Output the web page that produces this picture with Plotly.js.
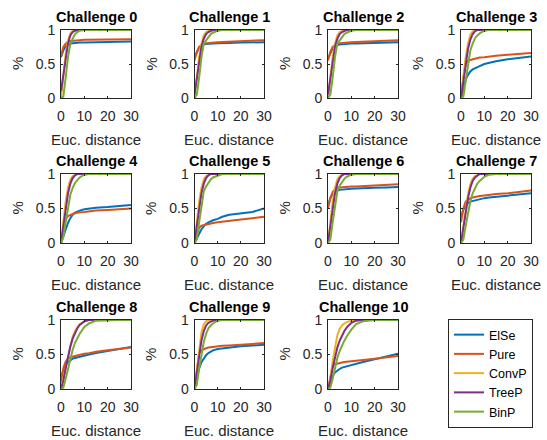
<!DOCTYPE html>
<html>
<head>
<meta charset="utf-8">
<script src="https://cdn.plot.ly/plotly-3.0.1.min.js"></script>
<style>html,body{margin:0;padding:0;background:#fff;}#chart{width:547px;height:440px;}</style>
</head>
<body>
<div id="chart"></div>
<script>
// Euclidean distance sample points (x axis)
const dist = [0, 1, 2, 3, 4, 5, 6, 7, 8, 10, 12, 15, 20, 25, 30];

const challenges = ['Challenge 0','Challenge 1','Challenge 2','Challenge 3','Challenge 4','Challenge 5',
                    'Challenge 6','Challenge 7','Challenge 8','Challenge 9','Challenge 10'];
const seriesNames = ['ElSe','Pure','ConvP','TreeP','BinP'];
const xLabel = 'Euc. distance';
const yLabel = '%';

// one row per challenge, values at each distance in `dist`
const ElSe = [
  [0.60,0.70,0.76,0.79,0.80,0.805,0.81,0.81,0.815,0.815,0.82,0.82,0.825,0.83,0.83],
  [0.60,0.68,0.74,0.77,0.79,0.795,0.80,0.80,0.80,0.805,0.81,0.81,0.815,0.82,0.82],
  [0.58,0.67,0.73,0.76,0.78,0.785,0.79,0.79,0.795,0.80,0.80,0.805,0.81,0.815,0.82],
  [0.00,0.15,0.27,0.34,0.39,0.42,0.44,0.46,0.47,0.50,0.52,0.54,0.57,0.59,0.61],
  [0.00,0.10,0.20,0.29,0.36,0.41,0.44,0.46,0.47,0.49,0.50,0.51,0.52,0.54,0.55],
  [0.00,0.07,0.15,0.20,0.24,0.28,0.30,0.32,0.33,0.35,0.38,0.41,0.43,0.45,0.50],
  [0.55,0.65,0.71,0.74,0.76,0.77,0.775,0.78,0.78,0.785,0.79,0.79,0.80,0.805,0.81],
  [0.38,0.48,0.54,0.58,0.60,0.61,0.62,0.63,0.64,0.65,0.66,0.67,0.68,0.70,0.72],
  [0.18,0.28,0.35,0.39,0.42,0.44,0.45,0.46,0.47,0.49,0.50,0.52,0.55,0.58,0.61],
  [0.00,0.15,0.30,0.39,0.45,0.49,0.52,0.54,0.56,0.58,0.59,0.60,0.62,0.63,0.64],
  [0.00,0.10,0.19,0.24,0.27,0.29,0.31,0.32,0.33,0.35,0.37,0.39,0.43,0.47,0.51]
];
const Pure = [
  [0.62,0.75,0.80,0.83,0.84,0.845,0.85,0.85,0.85,0.855,0.855,0.86,0.86,0.865,0.865],
  [0.55,0.68,0.75,0.78,0.80,0.805,0.81,0.81,0.815,0.82,0.825,0.83,0.84,0.845,0.85],
  [0.55,0.68,0.75,0.78,0.80,0.805,0.81,0.81,0.815,0.82,0.825,0.83,0.84,0.845,0.85],
  [0.00,0.30,0.50,0.55,0.56,0.57,0.58,0.59,0.595,0.60,0.61,0.62,0.635,0.645,0.66],
  [0.00,0.20,0.35,0.39,0.41,0.42,0.43,0.44,0.445,0.45,0.46,0.47,0.48,0.49,0.50],
  [0.00,0.12,0.22,0.25,0.26,0.27,0.28,0.285,0.29,0.30,0.31,0.32,0.34,0.36,0.38],
  [0.50,0.65,0.74,0.78,0.80,0.805,0.81,0.81,0.815,0.82,0.82,0.825,0.83,0.84,0.85],
  [0.30,0.50,0.60,0.63,0.65,0.66,0.67,0.675,0.68,0.69,0.70,0.71,0.72,0.74,0.76],
  [0.10,0.30,0.40,0.44,0.46,0.47,0.48,0.49,0.50,0.51,0.52,0.54,0.56,0.58,0.60],
  [0.00,0.30,0.52,0.56,0.58,0.59,0.60,0.605,0.61,0.62,0.625,0.63,0.645,0.655,0.665],
  [0.00,0.20,0.34,0.36,0.37,0.38,0.385,0.39,0.395,0.40,0.41,0.42,0.44,0.46,0.48]
];
const ConvP = [
  [0.00,0.35,0.65,0.85,0.95,0.99,1,1,1,1,1,1,1,1,1],
  [0.00,0.30,0.60,0.80,0.92,0.97,0.99,1,1,1,1,1,1,1,1],
  [0.00,0.30,0.60,0.80,0.92,0.97,0.99,1,1,1,1,1,1,1,1],
  [0.00,0.30,0.60,0.80,0.93,0.98,1,1,1,1,1,1,1,1,1],
  [0.00,0.30,0.60,0.80,0.92,0.97,0.99,1,1,1,1,1,1,1,1],
  [0.00,0.30,0.60,0.80,0.92,0.97,0.99,1,1,1,1,1,1,1,1],
  [0.00,0.30,0.60,0.80,0.92,0.97,0.99,1,1,1,1,1,1,1,1],
  [0.00,0.25,0.50,0.70,0.85,0.93,0.97,0.99,1,1,1,1,1,1,1],
  [0.00,0.15,0.32,0.50,0.65,0.76,0.84,0.90,0.94,0.98,1,1,1,1,1],
  [0.00,0.30,0.60,0.82,0.94,0.98,1,1,1,1,1,1,1,1,1],
  [0.00,0.15,0.40,0.62,0.78,0.87,0.92,0.95,0.97,0.99,1,1,1,1,1]
];
const TreeP = [
  [0.10,0.35,0.60,0.80,0.92,0.97,0.99,1,1,1,1,1,1,1,1],
  [0.05,0.30,0.55,0.75,0.87,0.94,0.97,0.99,1,1,1,1,1,1,1],
  [0.05,0.30,0.55,0.75,0.87,0.94,0.97,0.99,1,1,1,1,1,1,1],
  [0.00,0.25,0.50,0.72,0.86,0.94,0.98,1,1,1,1,1,1,1,1],
  [0.00,0.25,0.50,0.72,0.86,0.94,0.98,1,1,1,1,1,1,1,1],
  [0.00,0.25,0.50,0.72,0.86,0.94,0.98,1,1,1,1,1,1,1,1],
  [0.00,0.25,0.50,0.72,0.86,0.94,0.98,1,1,1,1,1,1,1,1],
  [0.00,0.22,0.45,0.65,0.80,0.90,0.95,0.98,1,1,1,1,1,1,1],
  [0.00,0.12,0.30,0.47,0.62,0.73,0.82,0.88,0.93,0.98,1,1,1,1,1],
  [0.00,0.25,0.50,0.70,0.84,0.92,0.96,0.98,0.99,1,1,1,1,1,1],
  [0.00,0.12,0.30,0.47,0.60,0.70,0.78,0.84,0.89,0.96,0.99,1,1,1,1]
];
const BinP = [
  [0.00,0.02,0.30,0.60,0.80,0.88,0.94,0.97,0.99,1,1,1,1,1,1],
  [0.00,0.05,0.30,0.60,0.80,0.85,0.90,0.94,0.96,0.99,1,1,1,1,1],
  [0.00,0.05,0.30,0.60,0.80,0.85,0.90,0.94,0.96,0.99,1,1,1,1,1],
  [0.00,0.02,0.25,0.50,0.70,0.80,0.88,0.92,0.95,0.99,1,1,1,1,1],
  [0.00,0.08,0.30,0.50,0.70,0.80,0.87,0.91,0.95,0.99,1,1,1,1,1],
  [0.00,0.05,0.30,0.55,0.75,0.82,0.88,0.92,0.95,0.98,1,1,1,1,1],
  [0.00,0.05,0.30,0.55,0.75,0.83,0.89,0.93,0.96,0.99,1,1,1,1,1],
  [0.00,0.05,0.25,0.45,0.60,0.72,0.80,0.86,0.90,0.96,0.99,1,1,1,1],
  [0.00,0.02,0.15,0.30,0.45,0.57,0.67,0.74,0.80,0.90,0.95,0.99,1,1,1],
  [0.00,0.06,0.30,0.50,0.68,0.80,0.88,0.92,0.95,0.99,1,1,1,1,1],
  [0.00,0.02,0.15,0.30,0.45,0.55,0.63,0.70,0.76,0.86,0.94,0.98,1,1,1]
];

const xTicks = [0, 10, 20, 30];
const yTicks = [0, 0.5, 1];
const yTickText = ['0', '0.5', '1'];

const seriesData = [ElSe, Pure, ConvP, TreeP, BinP];
const colors = ['#0072BD', '#D95319', '#EDB120', '#7E2F8E', '#77AC30'];

const W = 547, H = 440;
const colPx = [[61, 131], [194.5, 264], [328, 398], [461, 531]];
const rowPx = [[30, 98], [174, 243], [320, 389]];
const FONT = '"Liberation Sans", Arial, Helvetica, sans-serif';
const AX = '#262626';

const traces = [];
const layout = {
  width: W, height: H,
  margin: {l: 0, r: 0, t: 0, b: 0},
  paper_bgcolor: '#fff', plot_bgcolor: '#fff',
  font: {family: FONT, color: AX, size: 14},
  showlegend: true,
  legend: {
    x: 448 / W, y: (H - 319) / H, xanchor: 'left', yanchor: 'top',
    bordercolor: '#262626', borderwidth: 1, bgcolor: '#fff',
    font: {family: FONT, size: 12.5, color: '#000'},
    tracegroupgap: 0
  },
  annotations: []
};

challenges.forEach((name, i) => {
  const r = Math.floor(i / 4), c = i % 4;
  const n = i + 1;
  const xa = 'xaxis' + (n === 1 ? '' : n), ya = 'yaxis' + (n === 1 ? '' : n);
  const xr = 'x' + (n === 1 ? '' : n), yr = 'y' + (n === 1 ? '' : n);
  layout[xa] = {
    domain: [colPx[c][0] / W, colPx[c][1] / W], anchor: yr,
    range: [0, 30], tickvals: xTicks, ticktext: xTicks.map(String),
    showline: true, linecolor: AX, linewidth: 1, mirror: 'ticks',
    ticks: 'inside', ticklen: 2, tickcolor: AX, showgrid: false, zeroline: false,
    tickfont: {family: FONT, size: 14, color: AX}, ticklabelstandoff: 5,
    fixedrange: true
  };
  layout[ya] = {
    domain: [(H - rowPx[r][1]) / H, (H - rowPx[r][0]) / H], anchor: xr,
    range: [0, 1], tickvals: yTicks, ticktext: yTickText,
    showline: true, linecolor: AX, linewidth: 1, mirror: 'ticks',
    ticks: 'inside', ticklen: 2, tickcolor: AX, showgrid: false, zeroline: false,
    tickfont: {family: FONT, size: 14, color: AX}, ticklabelstandoff: 2,
    fixedrange: true
  };
  // subplot title
  layout.annotations.push({
    text: '<b>' + name + '</b>', xref: xr + ' domain', yref: yr + ' domain',
    x: 0.5, y: 1, xanchor: 'center', yanchor: 'bottom', yshift: 3, showarrow: false,
    font: {family: FONT, size: 14.5, color: '#000'}
  });
  // x axis title
  layout.annotations.push({
    text: xLabel, xref: xr + ' domain', yref: yr + ' domain',
    x: 0.5, y: 0, xanchor: 'center', yanchor: 'middle', yshift: -41, showarrow: false,
    font: {family: FONT, size: 15, color: AX}
  });
  // y axis title
  layout.annotations.push({
    text: yLabel, xref: xr + ' domain', yref: yr + ' domain', textangle: -90,
    x: 0, y: 0.5, xanchor: 'center', yanchor: 'middle', xshift: -44, showarrow: false,
    font: {family: FONT, size: 15, color: AX}
  });
  seriesData.forEach((s, k) => {
    traces.push({
      type: 'scatter', mode: 'lines', x: dist, y: s[i],
      xaxis: xr, yaxis: yr, name: seriesNames[k],
      line: {color: colors[k], width: 2},
      showlegend: i === 0, legendgroup: seriesNames[k]
    });
  });
});

Plotly.newPlot('chart', traces, layout, {staticPlot: true, displayModeBar: false});
</script>
</body>
</html>
